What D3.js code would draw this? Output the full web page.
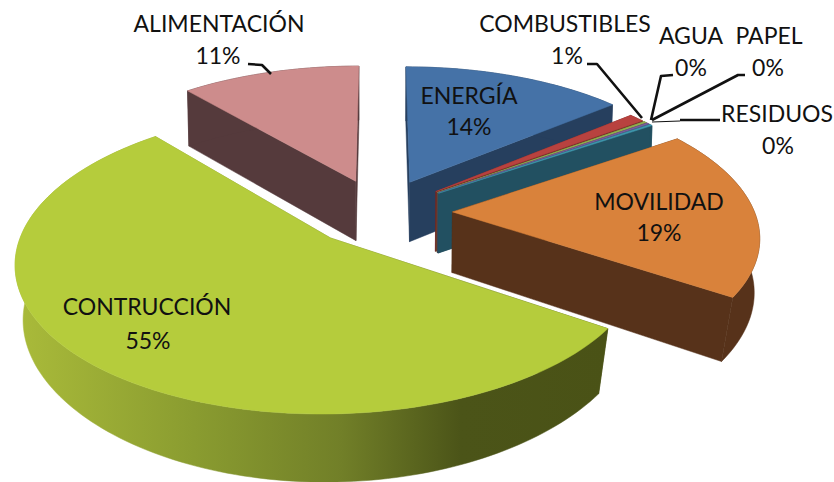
<!DOCTYPE html>
<html><head><meta charset="utf-8">
<style>html,body{margin:0;padding:0;background:#fff}svg{display:block}text{font-family:Lato,"Open Sans",sans-serif;font-size:23px;fill:#111;text-anchor:middle}</style>
<script src="https://cdn.jsdelivr.net/npm/d3@7"></script></head><body>
<script>
// Data
const categories=["ENERGÍA","COMBUSTIBLES","AGUA","PAPEL","RESIDUOS","MOVILIDAD","CONTRUCCIÓN","ALIMENTACIÓN"];
const values=[14,1,0.2,0.2,0.2,19,54.7,11.3];
const percentLabels=["14%","1%","0%","0%","0%","19%","55%","11%"];
// Style
const topColors=["#4572a7","#b8423f","#93ad4d","#7a5c9c","#3f97ad","#d9823b","#b5cc3c","#cd8c8c"];
const wallColors=["#263f5e","#6e2826","#58682e","#49375d","#225061","#57321a","url(#wallGrad)","#553a3c"];
const sliceRadius=[1,0.96,0.96,0.96,0.96,1,1,1];
// Draw order, back to front
const drawOrder=[0,1,2,3,4,5,7,6];
// Camera
const cam={cx:380,cy:212,rx:302,ry:141,p:0.15,q:0.022,qx0:0.008,qx1:0.04,h:62};
const explode=0.24;
// Label layout (name and percent baselines)
const labelLayout=[
 {x:469,y:104,px:469,py:135},{x:565,y:32,px:567,py:64},{x:691,y:44,px:691,py:76},
 {x:769,y:44,px:768,py:76},{x:777,y:122,px:778,py:154},{x:659,y:210,px:659,py:241},
 {x:147,y:315,px:148,py:349},{x:219,y:32,px:218,py:64}];
const leaderLayout=[
 {i:7,pts:[[248,64],[262,65],[271,74]]},
 {i:1,pts:[[587,64],[597,64],[642,118]]},
 {i:2,pts:[[673,75],[661,76],[651,120]]},
 {i:3,pts:[[745,75],[738,75],[652,120]]},
 {i:4,pts:[[720,120],[680,120]]},
 {i:4,pts:[[680,121],[652,122]],thin:true}];

const W=834,H=482;
const svg=d3.select("body").append("svg").attr("width",W).attr("height",H);
const grad=svg.append("defs").append("linearGradient").attr("id","wallGrad")
  .attr("gradientUnits","userSpaceOnUse").attr("x1",15).attr("x2",610).attr("y1",0).attr("y2",0);
[[0,"#aabb3a"],[0.3,"#8a9c30"],[0.55,"#717f28"],[0.75,"#4b5418"],[1,"#4a5216"]].forEach(s=>grad.append("stop").attr("offset",s[0]).attr("stop-color",s[1]));

function project(X,Y,Z){
  const w=1+cam.p*Y+cam.q*Z;
  const wx=1+cam.p*Y+(cam.qx0+cam.qx1*Math.max(0,-Y))*Z;
  return [cam.cx+cam.rx*X/wx,cam.cy-(cam.ry*Y-cam.h*Z)/w];
}
const pie=d3.pie().sort(null).startAngle(0).endAngle(2*Math.PI).value(d=>d);
const arcs=pie(values);
const line=d3.line();
arcs.forEach((a,i)=>{
  const mid=(a.startAngle+a.endAngle)/2;
  a.ox=explode*Math.sin(mid);a.oy=explode*Math.cos(mid);
  const n=Math.max(2,Math.ceil((a.endAngle-a.startAngle)*40));
  a.rim=d3.range(n+1).map(k=>a.startAngle+(a.endAngle-a.startAngle)*k/n)
    .map(t=>[a.ox+sliceRadius[i]*Math.sin(t),a.oy+sliceRadius[i]*Math.cos(t)]);
});
const gs=svg.selectAll("g.slice").data(drawOrder.map(i=>arcs[i])).join("g").attr("class","slice");
gs.each(function(a){
  const g=d3.select(this),c=wallColors[a.index];
  const first=a.rim[0],last=a.rim[a.rim.length-1];
  const face=(u)=>[[a.ox,a.oy,0],[u[0],u[1],0],[u[0],u[1],1],[a.ox,a.oy,1]].map(d=>project(...d));
  const paint=(pts,fill)=>g.append("path").attr("d",line(pts)+"Z").attr("fill",fill).attr("stroke",fill).attr("stroke-width",0.5);
  paint(face(first),c);paint(face(last),c);
  paint(a.rim.map(d=>project(d[0],d[1],0)).concat(a.rim.slice().reverse().map(d=>project(d[0],d[1],1))),c);
  paint([project(a.ox,a.oy,0)].concat(a.rim.map(d=>project(d[0],d[1],0))),topColors[a.index]);
});
const lg=svg.append("g").attr("fill","none").attr("stroke","#111");
leaderLayout.forEach(l=>lg.append("path").attr("d",line(l.pts)).attr("stroke-width",l.thin?1.2:2.6).attr("stroke-linejoin","round"));
const tg=svg.append("g");
categories.forEach((c,i)=>{const p=labelLayout[i];
  tg.append("text").attr("x",p.x).attr("y",p.y).text(c);
  tg.append("text").attr("x",p.px).attr("y",p.py).text(percentLabels[i]);});
</script></body></html>
